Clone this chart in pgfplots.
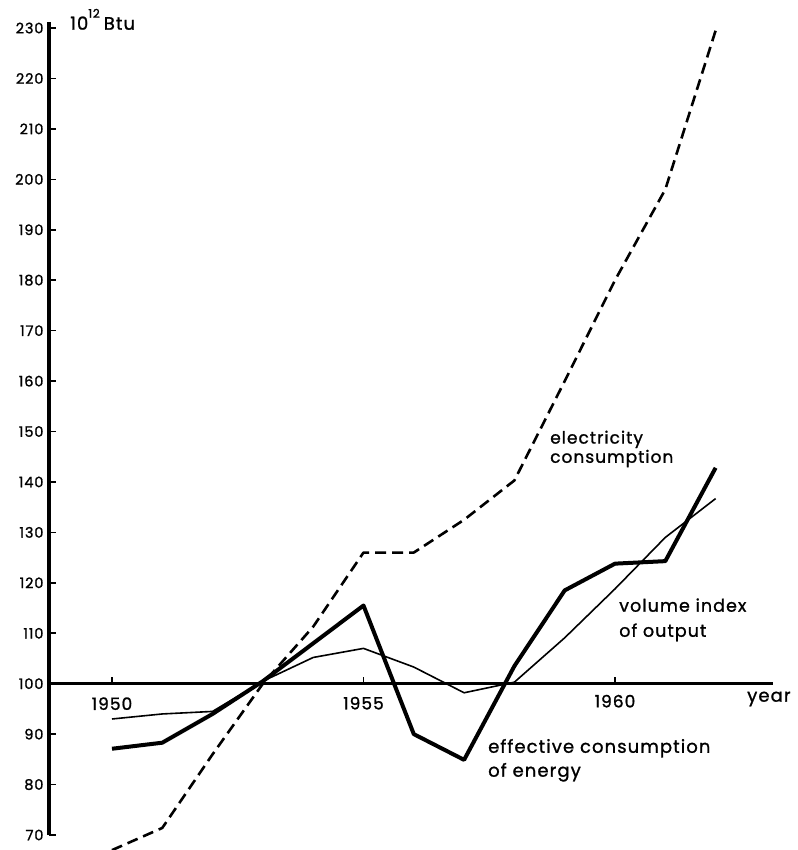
\documentclass[border=0pt]{standalone}
\usepackage{pgfplots}
\pgfplotsset{compat=1.18}
\usepackage{fontspec}
\setmainfont{Poppins}
\newfontfamily\lab[LetterSpace=6, FakeBold=1.2]{Poppins}

% x = years after 1950
\pgfplotstableread{
yr elec output energy
0  67.0  93.0  87.1
1  71.4  94.0  88.3
2  86.0  94.5  94.0
3  100.0 100.5 100.5
4  111.3 105.2 108.0
5  126.0 107.0 115.5
6  126.0 103.3 90.0
7  132.5 98.2  84.9
8  140.3 100.3 103.5
9  160.0 109.1 118.5
10 180.0 118.8 123.8
11 198.0 129.0 124.3
12 229.5 136.7 142.8
}\datatable

\begin{document}
\begin{tikzpicture}
\begin{axis}[
  scale only axis, width=724pt, height=812pt,
  xmin=-1.252, xmax=13.141, ymin=70, ymax=231,
  axis x line=none, axis y line=left,
  axis line style={-},
  xtick=\empty,
  ytick={70,80,...,230},
  tick align=inside, major tick length=7pt,
  ytick style={line width=1.6pt, black},
  yticklabel style={font=\fontsize{14.5}{15}\lab, xshift=-2pt},
  /pgf/number format/assume math mode=true,
  clip=false,
]
\addplot[black, line width=2.6pt, dash pattern=on 11pt off 6pt, line join=round] table[x=yr, y=elec] {\datatable};
\addplot[black, line width=1.6pt, line join=round] table[x=yr, y=output] {\datatable};
\addplot[black, line width=4pt, line join=round] table[x=yr, y=energy] {\datatable};

% horizontal 100 line with year ticks
\draw[black, line width=2.4pt] (axis cs:-1.252,100) -- (axis cs:13.141,100);
\draw[line width=1.6pt] (axis cs:0,100) -- (axis cs:0,101.4);
\draw[line width=1.6pt] (axis cs:5,100) -- (axis cs:5,101.4);
\draw[line width=1.6pt] (axis cs:10,100) -- (axis cs:10,101.4);
\node[anchor=base, font=\fontsize{17}{17}\lab] at (axis cs:0,94.8) {1950};
\node[anchor=base, font=\fontsize{17}{17}\lab] at (axis cs:5,94.9) {1955};
\node[anchor=base, font=\fontsize{17}{17}\lab] at (axis cs:10,95.3) {1960};
\node[anchor=base west, font=\fontsize{18}{18}\lab, inner sep=0pt] at (axis cs:12.624,96.43) {year};

\node[anchor=base west, inner sep=0pt] at (axis cs:-0.835,229.66)
  {\fontsize{18}{18}\lab 10\raisebox{12pt}{\fontsize{12}{12}\lab 12}\hspace{4pt}Btu};

\node[anchor=base west, inner sep=0pt, font=\fontsize{17}{17}\lab] at (axis cs:8.708,147.6) {electricity};
\node[anchor=base west, inner sep=0pt, font=\fontsize{17}{17}\lab] at (axis cs:8.708,143.8) {consumption};
\node[anchor=base west, inner sep=0pt, font=\fontsize{17.5}{17}\lab] at (axis cs:10.08,114.27) {volume index};
\node[anchor=base west, inner sep=0pt, font=\fontsize{17.5}{17}\lab] at (axis cs:10.08,109.3) {of output};
\node[anchor=base west, inner sep=0pt, font=\fontsize{18}{17}\lab] at (axis cs:7.475,86.3) {effective consumption};
\node[anchor=base west, inner sep=0pt, font=\fontsize{18}{17}\lab] at (axis cs:7.475,81.56) {of energy};
\end{axis}
% thick vertical axis line, drawn in picture coordinates at the axis's left edge
\draw[black, line width=3.2pt] (0pt,0pt) -- (0pt,813pt);
\pgfresetboundingbox
\path[use as bounding box] (-49pt,-15pt) rectangle (748pt,835pt);
\end{tikzpicture}
\end{document}
